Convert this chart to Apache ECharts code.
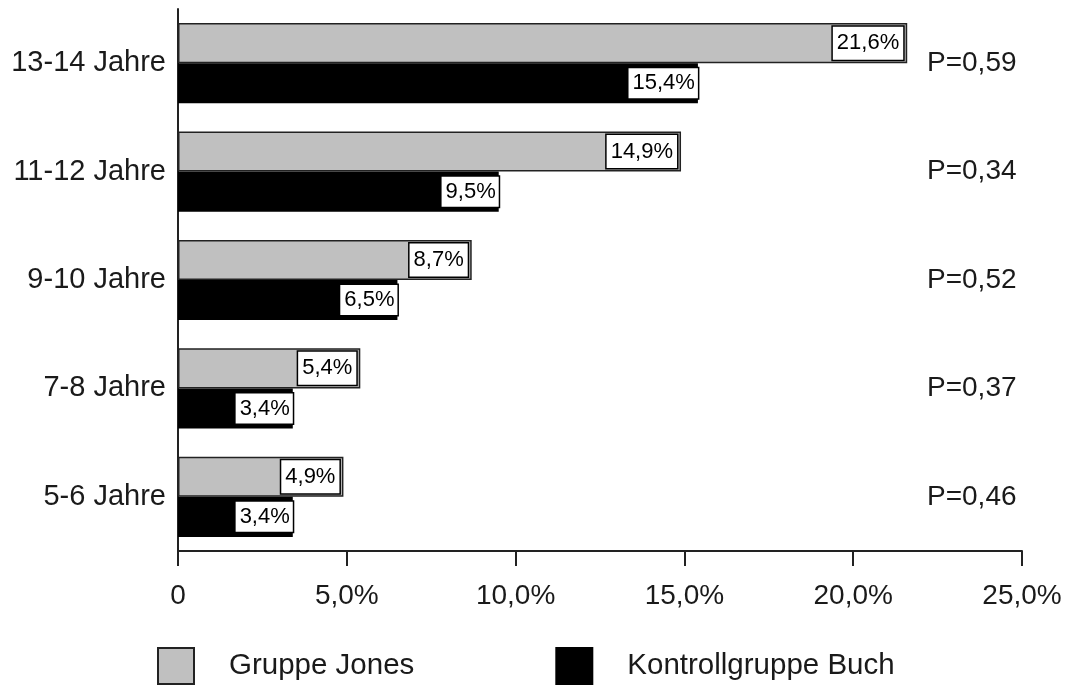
<!DOCTYPE html>
<html>
<head>
<meta charset="utf-8">
<script src="https://cdn.jsdelivr.net/npm/echarts@6/dist/echarts.min.js"></script>
<style>
  html, body { margin: 0; padding: 0; background: #fff; }
  #chart { width: 1067px; height: 687px; }
</style>
</head>
<body>
<div id="chart"></div>
<script>
// Age groups, listed bottom to top
const categories = ['5-6 Jahre', '7-8 Jahre', '9-10 Jahre', '11-12 Jahre', '13-14 Jahre'];
// Share in percent per age group
const jones = [4.9, 5.4, 8.7, 14.9, 21.6];
const buch = [3.4, 3.4, 6.5, 9.5, 15.4];
// Significance per age group
const pValues = ['P=0,46', 'P=0,37', 'P=0,52', 'P=0,34', 'P=0,59'];
const seriesNames = ['Gruppe Jones', 'Kontrollgruppe Buch'];

const FONT = '"Liberation Sans", Arial, sans-serif';
const TEXT = '#1a1a1a';
const fmt = v => v.toFixed(1).replace('.', ',') + '%';

const chart = echarts.init(document.getElementById('chart'), null, { renderer: 'canvas' });

const labelBase = {
  show: true,
  position: 'insideRight',
  color: '#000',
  fontFamily: FONT,
  fontSize: 22,
  lineHeight: 24,
  backgroundColor: '#fff',
  borderColor: '#000',
  borderWidth: 1.5,
  formatter: p => fmt(p.value)
};

chart.setOption({
  animation: false,
  backgroundColor: '#fff',
  grid: { left: 178, right: 45, top: 9, bottom: 136, containLabel: false },
  legend: {
    data: seriesNames,
    icon: 'rect',
    left: 157,
    top: 647,
    padding: 0,
    itemWidth: 36,
    itemHeight: 36,
    itemGap: 141,
    itemStyle: { borderWidth: 2 },
    textStyle: { fontFamily: FONT, fontSize: 29.5, color: TEXT, padding: [0, 0, 0, 30] }
  },
  xAxis: {
    type: 'value',
    min: 0,
    max: 25,
    interval: 5,
    splitLine: { show: false },
    axisLine: { show: true, lineStyle: { color: '#222', width: 2 } },
    axisTick: { show: true, length: 15, lineStyle: { color: '#222', width: 2 } },
    axisLabel: {
      margin: 31,
      fontFamily: FONT,
      fontSize: 28,
      color: TEXT,
      formatter: v => (v === 0 ? '0' : fmt(v))
    }
  },
  yAxis: [
    {
      type: 'category',
      data: categories,
      axisLine: { show: true, lineStyle: { color: '#222', width: 2 } },
      axisTick: { show: false },
      axisLabel: { margin: 12, fontFamily: FONT, fontSize: 29, color: TEXT }
    },
    {
      type: 'category',
      data: pValues,
      position: 'right',
      axisLine: { show: false },
      axisTick: { show: false },
      axisLabel: { margin: -95, align: 'left', fontFamily: FONT, fontSize: 28, color: TEXT }
    }
  ],
  series: [
    {
      name: seriesNames[0],
      type: 'bar',
      data: jones,
      barGap: '0%',
      barCategoryGap: '26%',
      itemStyle: { color: '#c0c0c0', borderColor: '#222', borderWidth: 1.5 },
      label: Object.assign({}, labelBase, { distance: 4, padding: [5, 4, 4, 4] })
    },
    {
      name: seriesNames[1],
      type: 'bar',
      data: buch,
      barGap: '0%',
      barCategoryGap: '26%',
      itemStyle: { color: '#000', borderColor: '#000', borderWidth: 1.5 },
      label: Object.assign({}, labelBase, { distance: 0, padding: [3, 3, 3, 4] })
    }
  ]
});
</script>
</body>
</html>
